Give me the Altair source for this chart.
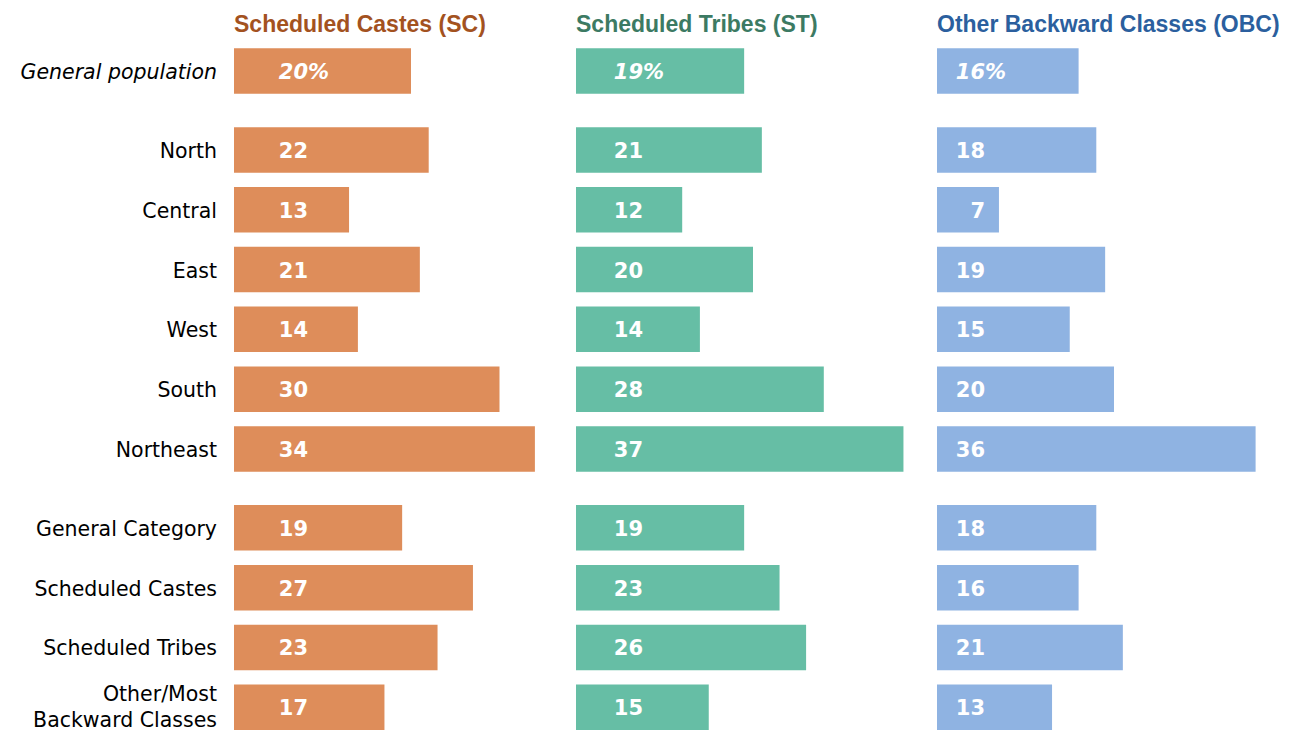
import altair as alt
import pandas as pd

# ---- data ----
categories = ["General population", "North", "Central", "East", "West", "South",
              "Northeast", "General Category", "Scheduled Castes", "Scheduled Tribes",
              "Other/Most\nBackward Classes"]
groups = [0, 1, 1, 1, 1, 1, 1, 2, 2, 2, 2]
sc_values = [20, 22, 13, 21, 14, 30, 34, 19, 27, 23, 17]
st_values = [19, 21, 12, 20, 14, 28, 37, 19, 23, 26, 15]
obc_values = [16, 18, 7, 19, 15, 20, 36, 18, 16, 21, 13]
panel_titles = ["Scheduled Castes (SC)", "Scheduled Tribes (ST)", "Other Backward Classes (OBC)"]

# ---- style ----
PX_PER_UNIT = 8.85
STEP = 59.8
GROUP_GAP = 0.32
BAR_SIZE = 45.5
PLOT_TOP = 43
H = 687
Y_MIN = -(71 - PLOT_TOP) / STEP
Y_MAX = Y_MIN + H / STEP

pos = [i + GROUP_GAP * g for i, g in enumerate(groups)]
df = pd.DataFrame({
    "label": categories,
    "pos": pos,
    "SC": sc_values,
    "ST": st_values,
    "OBC": obc_values,
    "first": [i == 0 for i in range(len(categories))],
    "multi": ["\n" in c for c in categories],
})

yscale = alt.Scale(domain=[Y_MIN, Y_MAX], reverse=True, nice=False, zero=False, padding=0)
LABEL_FONT = "DejaVu Sans"
NUM_FONT = "DejaVu Sans"
TITLE_FONT = "Liberation Sans"

base_y = alt.Y("pos:Q", scale=yscale, axis=None)

# label column
lab_base = alt.Chart(df).encode(y=base_y, x=alt.value(209), text="label:N")
lab_style = dict(align="right", baseline="middle", font=LABEL_FONT, fontSize=20.5, color="#000000")
lab_first = lab_base.transform_filter("datum.first").mark_text(fontStyle="italic", dy=2, **lab_style)
lab_rest = lab_base.transform_filter("!datum.first && !datum.multi").mark_text(dy=2, **lab_style)
lab_multi = lab_base.transform_filter("datum.multi").mark_text(
    lineBreak="\n", lineHeight=26, dy=-12, **lab_style)
label_panel = alt.layer(lab_first, lab_rest, lab_multi).properties(width=226, height=H)


def panel(field, title, bar_color, title_color, width, label_off):
    base = alt.Chart(df).encode(y=base_y)
    bars = base.mark_bar(color=bar_color, size=BAR_SIZE, orient="horizontal").encode(
        x=alt.X(f"{field}:Q", scale=alt.Scale(domain=[0, width / PX_PER_UNIT], nice=False, zero=True),
                axis=None))
    txt = dict(baseline="middle", font=NUM_FONT, fontSize=21, fontWeight="bold", color="white", dy=2)
    nums = base.transform_filter("!datum.first").mark_text(align="right", **txt).encode(
        x=alt.value(label_off), text=f"{field}:Q")
    first_num = base.transform_filter("datum.first").mark_text(
        align="right", fontStyle="italic", **txt).encode(x=alt.value(label_off), text=f"{field}:Q")
    pct = base.transform_filter("datum.first").mark_text(
        align="left", fontStyle="italic", **txt).encode(x=alt.value(label_off), text=alt.value("%"))
    return alt.layer(bars, nums, first_num, pct).properties(
        width=width, height=H,
        title=alt.TitleParams(title, anchor="start", font=TITLE_FONT, fontSize=23,
                              fontWeight="bold", color=title_color, offset=6))


sc_panel = panel("SC", panel_titles[0], "#DE8D5A", "#A3521F", 342, 74)
st_panel = panel("ST", panel_titles[1], "#66BEA5", "#3C7A63", 361, 67)
obc_panel = panel("OBC", panel_titles[2], "#8FB3E2", "#2B5F9E", 344, 48)

chart = alt.hconcat(label_panel, sc_panel, st_panel, obc_panel, spacing=0, bounds="flush").properties(
    padding={"top": 6, "left": 0, "right": 0, "bottom": 0}, background="white"
).configure_view(stroke=None)

chart.save("out.html", embed_options={"renderer": "svg", "actions": False})
